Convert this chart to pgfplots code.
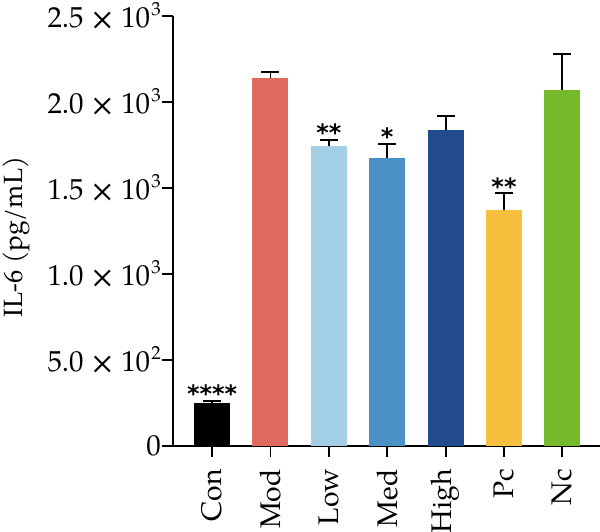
\documentclass[border=0pt]{standalone}
\usepackage{fontspec}
\setmainfont{TeX Gyre Pagella}
\newfontfamily\starfont{DejaVu Sans}
\usepackage{graphicx}
\usepackage{pgfplots}
\usepackage{pgfplotstable}
\pgfplotsset{compat=1.18}

\definecolor{cCon}{RGB}{0,0,0}
\definecolor{cMod}{RGB}{222,106,96}
\definecolor{cLow}{RGB}{162,206,230}
\definecolor{cMed}{RGB}{74,145,197}
\definecolor{cHigh}{RGB}{33,75,140}
\definecolor{cPc}{RGB}{247,191,62}
\definecolor{cNc}{RGB}{118,186,43}

% mean and SD of IL-6 (pg/mL) per group
\pgfplotstableread{
x   y     err  sig
0   248   15   ****
1   2138  38   {}
2   1744  35   **
3   1676  82   *
4   1835  84   {}
5   1372  97   **
6   2070  209  {}
}\ildata

\newcommand{\sci}[2]{#1\kern0.28em\raisebox{-0.08em}{\scalebox{1.25}{×}}\kern0.24em10\kern0.04em\raisebox{0.42em}{\fontsize{19}{19}\selectfont #2}}

\pgfplotsset{
  groupbar/.style={ybar, bar width=36bp, bar shift=0pt, fill=#1, draw=none,
    error bars/.cd, y dir=plus, y explicit, error mark=|,
    error bar style={line width=1.8bp, black},
    error mark options={black, line width=1.8bp, mark size=9bp}},
}

\begin{document}
\begin{tikzpicture}
\begin{axis}[
  scale only axis, width=427bp, height=430bp,
  xmin=-0.668, xmax=6.644, ymin=0, ymax=2500,
  axis lines=left, axis line style={-, line width=1.8bp, black},
  tick align=outside, major tick length=11bp,
  tick style={line width=1.8bp, black},
  xtick={0,...,6},
  xticklabels={Con,Mod,Low,Med,High,Pc,Nc},
  xticklabel style={rotate=90, anchor=east, inner sep=0pt,
    font=\fontsize{28.5}{28.5}\selectfont},
  xticklabel shift=12bp,
  ytick={0,500,1000,1500,2000,2500},
  yticklabels={0,\sci{5.0}{2},\sci{1.0}{3},\sci{1.5}{3},\sci{2.0}{3},\sci{2.5}{3}},
  yticklabel style={anchor=east, inner sep=0pt, font=\fontsize{29}{29}\selectfont},
  yticklabel shift=1bp,
  xtick pos=bottom, ytick pos=left,
  ylabel={IL-6 (pg/mL)},
  ylabel style={at={(axis description cs:-0.398,0.486)}, anchor=north,
    inner sep=0pt, font=\fontsize{26.5}{26.5}\selectfont},
  clip=false,
]
\addplot[groupbar=cCon]  table[x=x, y=y, y error=err, skip coords between index={1}{7}] \ildata;
\addplot[groupbar=cMod]  table[x=x, y=y, y error=err, skip coords between index={0}{1}, skip coords between index={2}{7}] \ildata;
\addplot[groupbar=cLow]  table[x=x, y=y, y error=err, skip coords between index={0}{2}, skip coords between index={3}{7}] \ildata;
\addplot[groupbar=cMed]  table[x=x, y=y, y error=err, skip coords between index={0}{3}, skip coords between index={4}{7}] \ildata;
\addplot[groupbar=cHigh] table[x=x, y=y, y error=err, skip coords between index={0}{4}, skip coords between index={5}{7}] \ildata;
\addplot[groupbar=cPc]   table[x=x, y=y, y error=err, skip coords between index={0}{5}, skip coords between index={6}{7}] \ildata;
\addplot[groupbar=cNc]   table[x=x, y=y, y error=err, skip coords between index={0}{6}] \ildata;
% significance marks above the error bars
\addplot[draw=none, mark=none, nodes near coords, point meta=explicit symbolic,
  nodes near coords style={anchor=south, inner sep=0pt, yshift=-2bp,
    font=\starfont\bfseries\fontsize{24}{24}\selectfont}]
  table[x=x, y expr=\thisrow{y}+\thisrow{err}, meta=sig] \ildata;
\end{axis}
\pgfresetboundingbox
\path[use as bounding box] ([shift={(-173bp,-86bp)}]current axis.south west)
  rectangle ([shift={(0bp,16bp)}]current axis.north east);
\end{tikzpicture}
\end{document}
